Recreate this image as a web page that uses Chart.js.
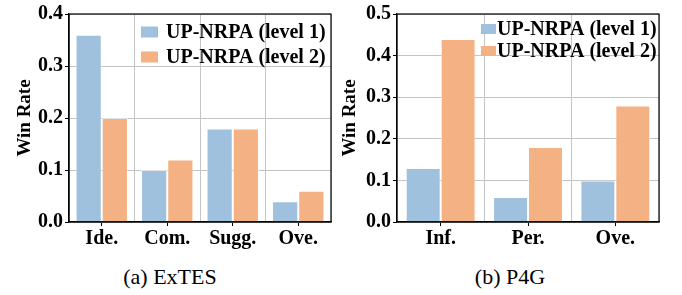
<!DOCTYPE html>
<html>
<head>
<meta charset="utf-8">
<script src="https://cdn.jsdelivr.net/npm/chart.js@4.4.1/dist/chart.umd.min.js"></script>
<style>
  body { margin: 0; background: #fff; }
  #wrap { position: relative; width: 682px; height: 295px; }
  canvas { position: absolute; top: 0; }
  .cap { position: absolute; top: 264px; font: 22px "Liberation Serif", serif; line-height: 25px; color: #000;
         transform: translateX(-50%); white-space: nowrap; }
</style>
</head>
<body>
<div id="wrap">
  <canvas id="c1" width="341" height="255" style="left:0"></canvas>
  <canvas id="c2" width="341" height="255" style="left:341px"></canvas>
  <div class="cap" style="left:170px">(a) ExTES</div>
  <div class="cap" style="left:510px">(b) P4G</div>
</div>
<script>
// ExTES
const extesLabels = ['Ide.', 'Com.', 'Sugg.', 'Ove.'];
const extesLevel1 = [0.36, 0.10, 0.18, 0.04];
const extesLevel2 = [0.20, 0.12, 0.18, 0.06];

// P4G
const p4gLabels = ['Inf.', 'Per.', 'Ove.'];
const p4gLevel1 = [0.13, 0.06, 0.10];
const p4gLevel2 = [0.44, 0.18, 0.28];

const seriesNames = ['UP-NRPA (level 1)', 'UP-NRPA (level 2)'];
const blue = '#9fc1dd';
const orange = '#f4b183';
const serif = '"Liberation Serif", "Times New Roman", serif';
const gridGray = '#c4c4c4';

// legend drawn inside the plot, plus a full black frame
const insideLegend = {
  id: 'insideLegend',
  afterDraw(chart, args, o) {
    const ctx = chart.ctx;
    const a = chart.chartArea;
    ctx.save();
    ctx.strokeStyle = '#000';
    ctx.lineWidth = 1.2;
    ctx.strokeRect(a.left, a.top, a.right - a.left, a.bottom - a.top);
    ctx.font = 'bold 20px ' + serif;
    ctx.textBaseline = 'middle';
    chart.data.datasets.forEach((ds, i) => {
      const y = o.y + i * o.gap;
      ctx.fillStyle = ds.backgroundColor;
      ctx.fillRect(o.x, y - o.boxH / 2, o.boxW, o.boxH);
      ctx.fillStyle = '#000';
      ctx.fillText(ds.label, o.x + o.boxW + o.pad, y + 1);
    });
    ctx.restore();
  }
};

function isMajor(v) {
  return Math.round(v * 100) % 10 === 0;
}

function makeChart(id, labels, l1, l2, yMax, padL, yWidth, padR, legend) {
  return new Chart(document.getElementById(id), {
    type: 'bar',
    data: {
      labels: labels,
      datasets: [
        { label: seriesNames[0], data: l1, backgroundColor: blue, borderColor: 'rgba(255,255,255,0.5)', borderWidth: 1,
          categoryPercentage: 0.8, barPercentage: 1.0 },
        { label: seriesNames[1], data: l2, backgroundColor: orange, borderColor: 'rgba(255,255,255,0.5)', borderWidth: 1,
          categoryPercentage: 0.8, barPercentage: 1.0 }
      ]
    },
    options: {
      responsive: false,
      animation: false,
      devicePixelRatio: 1,
      layout: { padding: { left: padL, right: padR, top: 11, bottom: 0 } },
      plugins: {
        legend: { display: false },
        tooltip: { enabled: false },
        insideLegend: legend
      },
      scales: {
        x: {
          position: 'bottom',
          grid: { offset: false, drawOnChartArea: false, color: '#000', tickLength: 4, tickWidth: 1 },
          border: { display: true, color: '#000', width: 1.2 },
          ticks: { color: '#000', padding: 1, font: { family: serif, size: 20, weight: 'bold' } },
          afterFit(scale) { scale.height = 33; }
        },
        xg: {
          position: 'top',
          type: 'category',
          labels: labels,
          grid: { offset: true, drawTicks: false, color: gridGray, lineWidth: 1 },
          border: { display: false },
          ticks: { display: false },
          afterFit(scale) { scale.height = 0; }
        },
        y: {
          min: 0,
          max: yMax,
          grid: {
            color: gridGray,
            lineWidth: 1,
            tickLength: 4,
            tickColor: (c) => (c.tick && isMajor(c.tick.value)) ? '#000' : 'rgba(0,0,0,0)'
          },
          border: { display: true, color: '#000', width: 1.2 },
          ticks: {
            stepSize: 0.05,
            padding: 2,
            color: '#000',
            font: { family: serif, size: 20, weight: 'bold' },
            callback: (v) => isMajor(v) ? v.toFixed(1) : ''
          },
          title: {
            display: true,
            text: 'Win Rate',
            color: '#000',
            padding: 0,
            font: { family: serif, size: 19, weight: 'bold', lineHeight: 1 }
          },
          afterFit(scale) { scale.width = yWidth; }
        }
      }
    },
    plugins: [insideLegend]
  });
}

makeChart('c1', extesLabels, extesLevel1, extesLevel2, 0.4, 16, 53, 10,
  { x: 141, y: 32, gap: 25, boxW: 17, boxH: 11, pad: 8 });
makeChart('c2', p4gLabels, p4gLevel1, p4gLevel2, 0.5, 0, 56, 23,
  { x: 140, y: 29, gap: 22, boxW: 15, boxH: 10, pad: 1 });
</script>
</body>
</html>
